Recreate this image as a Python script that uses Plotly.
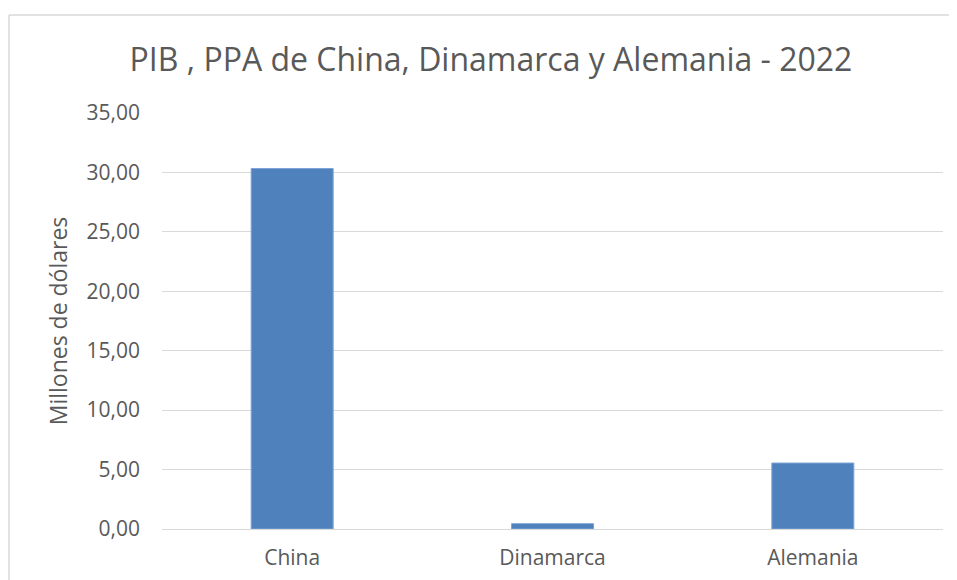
import plotly.graph_objects as go

categories = ["China", "Dinamarca", "Alemania"]
values = [30.33, 0.45, 5.55]
y_ticks = [0, 5, 10, 15, 20, 25, 30, 35]

fig = go.Figure()
fig.add_trace(go.Bar(
    x=categories, y=values,
    marker=dict(color="#4F81BD", line=dict(color="#7FA3D6", width=1)),
    width=0.315,
))

border = dict(color="#D9D9D9", width=1.5)
fig.update_layout(
    width=957, height=580,
    separators=",.",
    paper_bgcolor="white", plot_bgcolor="white",
    margin=dict(l=154, r=22, t=105, b=59),
    font=dict(family="Open Sans, Liberation Sans, sans-serif", color="#595959"),
    title=dict(text="PIB , PPA de China, Dinamarca y Alemania - 2022",
               x=0.5047, xanchor="center", y=0.911, yanchor="middle",
               font=dict(size=32, color="#595959")),
    showlegend=False,
    xaxis=dict(showgrid=False, showline=False, ticks="", ticklabelstandoff=14,
               tickfont=dict(size=21, color="#595959")),
    yaxis=dict(range=[0, 35], tickvals=y_ticks, tickformat=".2f",
               showgrid=True, gridcolor="#D9D9D9", gridwidth=1,
               zeroline=True, zerolinecolor="#D9D9D9", zerolinewidth=1,
               showline=False, ticks="", ticklabelstandoff=21,
               tickfont=dict(size=21, color="#595959"),
               title=dict(text="Millones de dólares", standoff=12,
                          font=dict(size=23, color="#595959"))),
    shapes=[
        dict(type="line", xref="paper", yref="paper",
             x0=-0.1959, x1=1.2, y0=1.2356, y1=1.2356, line=border, layer="below"),
        dict(type="line", xref="paper", yref="paper",
             x0=-0.1959, x1=-0.1959, y0=-0.5, y1=1.2356, line=border, layer="below"),
    ],
)

fig.write_html("out.html")
